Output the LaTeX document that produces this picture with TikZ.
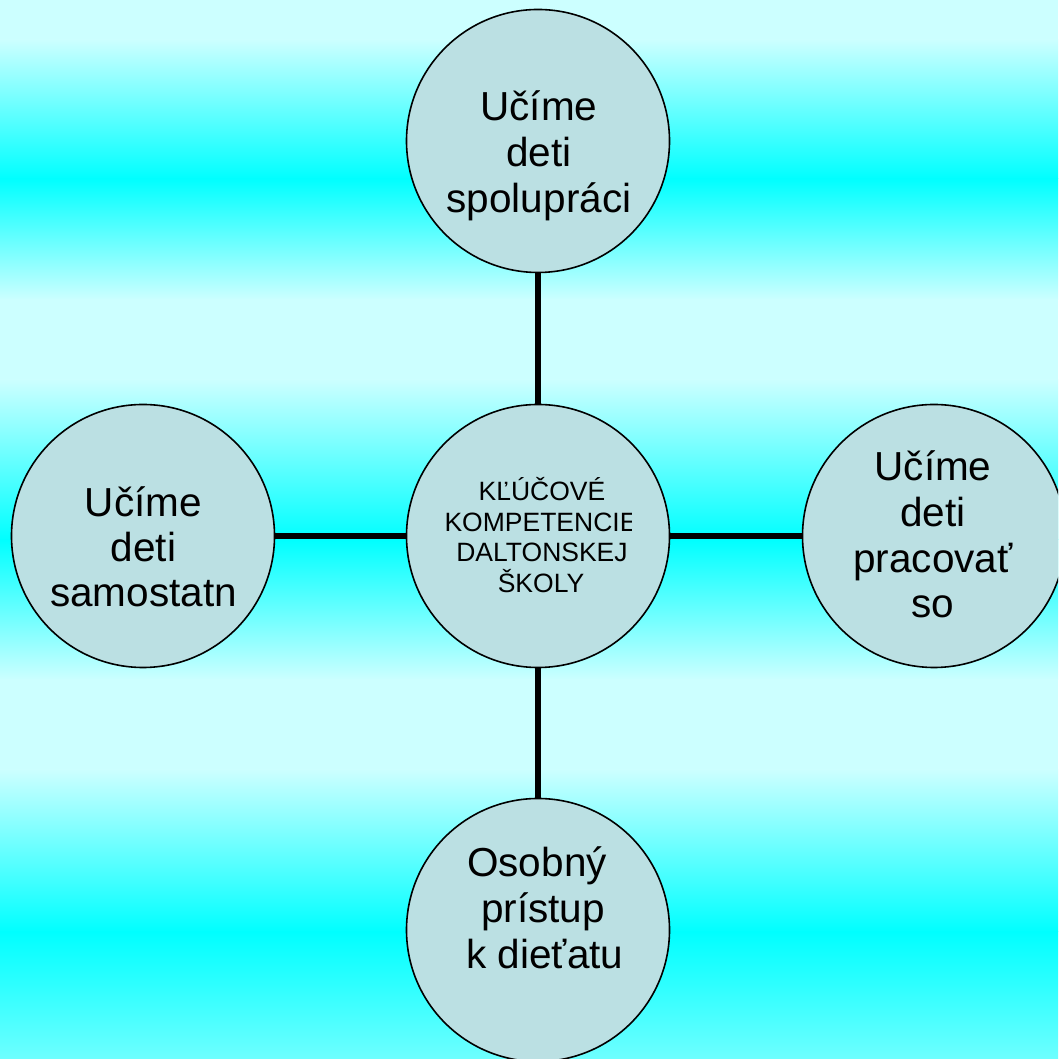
\documentclass[tikz,border=0pt]{standalone}
\usepackage{fontspec}
\setmainfont{Liberation Sans}
\begin{document}
\begin{tikzpicture}[x=1pt,y=1pt,
  bubble/.style={circle, draw=black, line width=1.6pt, fill=bubblefill, minimum size=263pt, inner sep=0pt},
  big/.style={anchor=base, inner sep=0pt, font=\fontsize{40.5}{46}\selectfont},
  small/.style={anchor=base, inner sep=0pt, font=\fontsize{26.5}{30.5}\selectfont},
  link/.style={line width=5.5pt, draw=black}]
\definecolor{bubblefill}{RGB}{187,224,227}
\definecolor{bglight}{RGB}{204,255,255}
\definecolor{bgcyan}{RGB}{0,255,255}
\definecolor{bgbottom}{RGB}{110,255,255}
\useasboundingbox (0,0) rectangle (1058,1059);
\clip (0,0) rectangle (1058,1059);
% background bands (Y = 1059 - y_px)
\fill[bglight] (0,1019) rectangle (1058,1059);
\shade[top color=bglight, bottom color=bgcyan] (0,880) rectangle (1058,1019.5);
\shade[top color=bgcyan, bottom color=bglight] (0,759) rectangle (1058,880.5);
\fill[bglight] (0,679) rectangle (1058,759.5);
\shade[top color=bglight, bottom color=bgcyan] (0,519) rectangle (1058,679.5);
\shade[top color=bgcyan, bottom color=bglight] (0,379) rectangle (1058,519.5);
\fill[bglight] (0,289) rectangle (1058,379.5);
\shade[top color=bglight, bottom color=bgcyan] (0,127) rectangle (1058,289.5);
\shade[top color=bgcyan, bottom color=bgbottom] (0,0) rectangle (1058,127.5);
% circles
\node[bubble] (ctr) at (538,523) {};
\node[bubble] (top) at (538,918) {};
\node[bubble] (left) at (143,523) {};
\node[bubble] (right) at (934,523) {};
\node[bubble] (bottom) at (538,129) {};
% connectors
\draw[link] (top) -- (ctr);
\draw[link] (left) -- (ctr);
\draw[link] (ctr) -- (right);
\draw[link] (ctr) -- (bottom);
% texts
\node[big] (ta) at (539,938) {Učíme};
\node[big] (tb) at (539,892) {deti};
\node[big] (tc) at (539,846) {spolupráci};
\node[big] (la) at (143.5,542) {Učíme};
\node[big] (lb) at (143.5,497) {deti};
\node[big] (lc) at (143.5,452) {samostatn};
\node[big] (ra) at (933,578) {Učíme};
\node[big] (rb) at (933,532) {deti};
\node[big] (rc) at (933,486) {pracovať};
\node[big] (rd) at (933,441) {so};
\node[big] (ba) at (537,182) {Osobný};
\node[big] (bb) at (543,136) {prístup};
\node[big] (bc) at (545,90) {k dieťatu};
\begin{scope}
\clip (0,0) rectangle (631.7,1059);
\node[small] (ca) at (542,558) {KĽÚČOVÉ};
\node[small] (cb) at (541,527.5) {KOMPETENCIE};
\node[small] (cc) at (542,497) {DALTONSKEJ};
\node[small] (cd) at (541,466.5) {ŠKOLY};
\end{scope}
\end{tikzpicture}
\end{document}
